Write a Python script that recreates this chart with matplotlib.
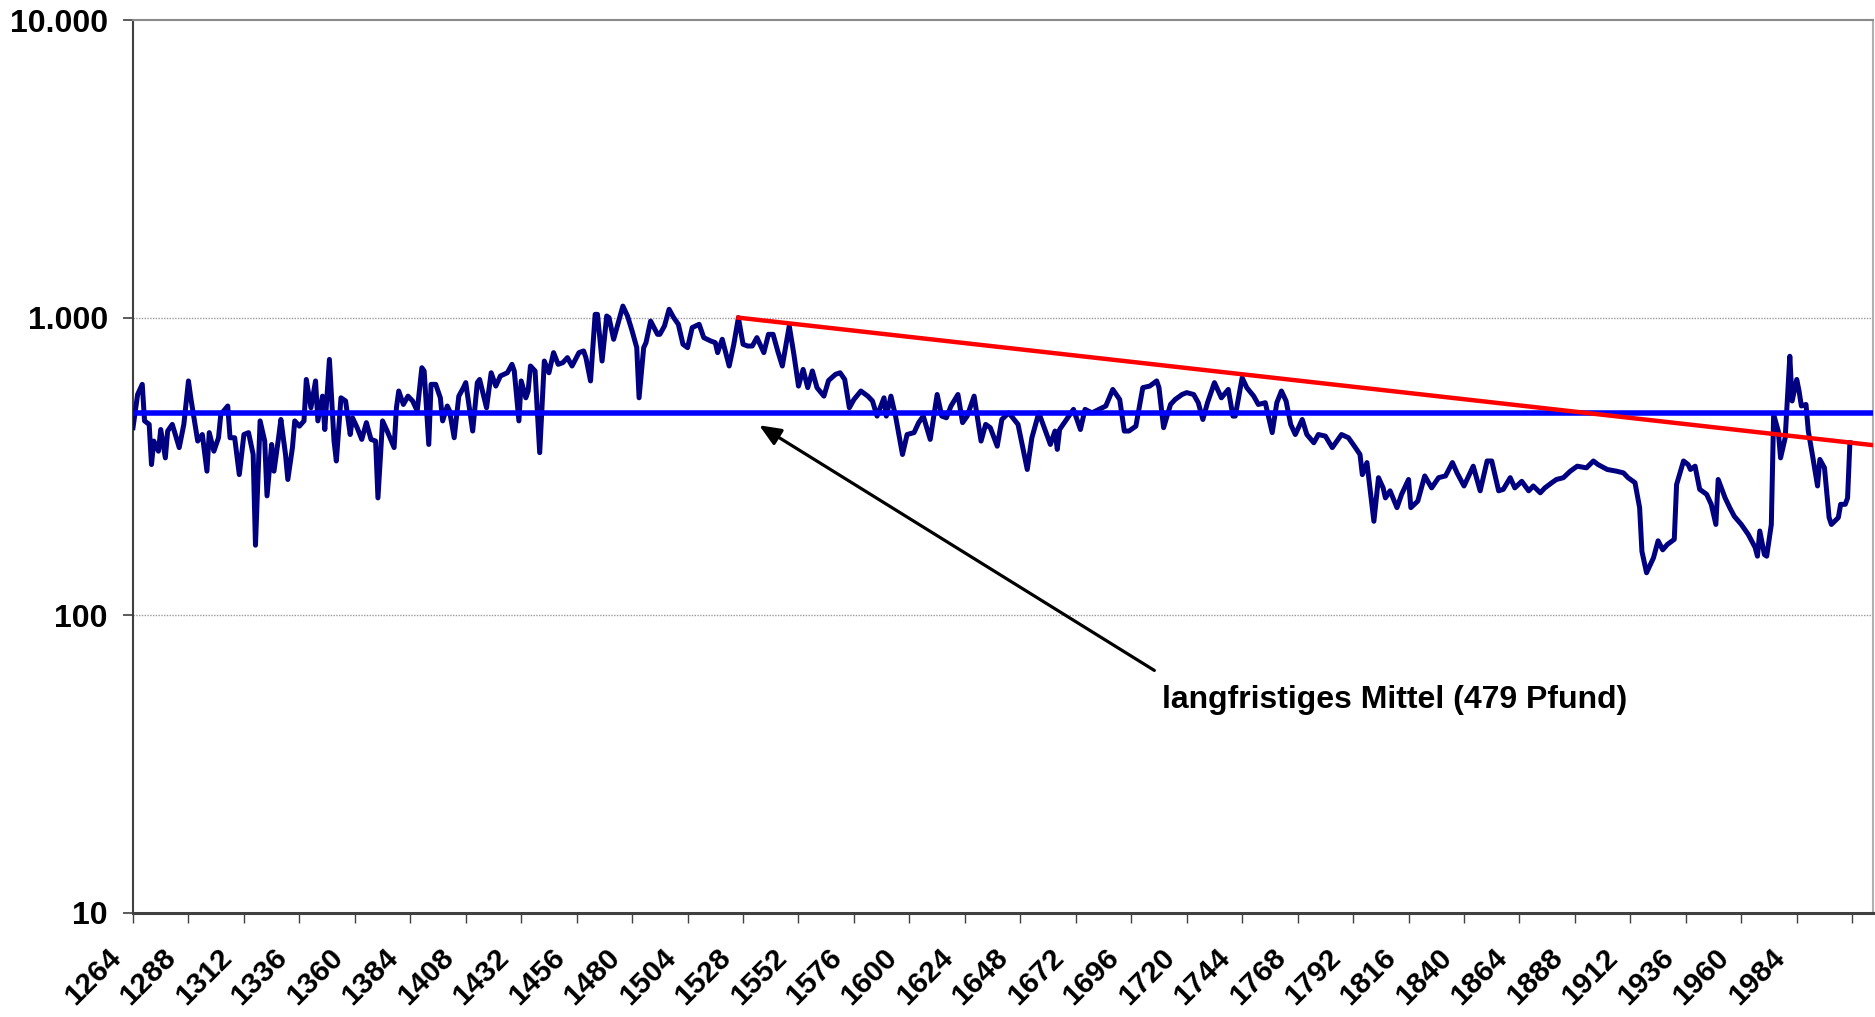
import matplotlib
matplotlib.use("Agg")
import matplotlib.pyplot as plt
import matplotlib.transforms as mtransforms
from matplotlib.ticker import FixedLocator, FixedFormatter, NullLocator

plt.rcParams['font.family'] = ['Liberation Sans', 'DejaVu Sans']

years = [
    1264, 1266, 1268, 1269, 1271, 1272, 1273, 1275, 1276, 1278, 1279, 1281, 1284, 1286, 1288, 1289,
    1292, 1294, 1296, 1297, 1299, 1301, 1302, 1305, 1306, 1308, 1310, 1312, 1314, 1316, 1317, 1319,
    1321, 1322, 1324, 1325, 1327, 1328, 1330, 1331, 1333, 1334, 1336, 1338, 1339, 1341, 1343, 1344,
    1346, 1347, 1349, 1351, 1352, 1354, 1356, 1358, 1359, 1361, 1363, 1365, 1367, 1369, 1370, 1372,
    1374, 1377, 1378, 1379, 1381, 1383, 1385, 1387, 1389, 1390, 1392, 1393, 1395, 1397, 1398, 1400,
    1401, 1403, 1405, 1407, 1408, 1411, 1413, 1414, 1417, 1419, 1421, 1423, 1426, 1428, 1429, 1431,
    1432, 1434, 1435, 1436, 1438, 1440, 1442, 1444, 1446, 1448, 1450, 1452, 1454, 1457, 1459, 1460,
    1462, 1464, 1465, 1467, 1469, 1470, 1472, 1475, 1476, 1478, 1480, 1482, 1483, 1485, 1486, 1488,
    1491, 1492, 1494, 1496, 1498, 1500, 1502, 1504, 1506, 1509, 1511, 1514, 1516, 1517, 1519, 1522,
    1524, 1526, 1528, 1530, 1532, 1534, 1537, 1539, 1541, 1543, 1545, 1546, 1548, 1550, 1552, 1554,
    1556, 1558, 1560, 1563, 1565, 1568, 1570, 1572, 1574, 1576, 1579, 1582, 1584, 1586, 1589, 1590,
    1592, 1594, 1597, 1599, 1602, 1604, 1606, 1609, 1612, 1614, 1616, 1618, 1621, 1623, 1625, 1628,
    1631, 1633, 1635, 1638, 1640, 1643, 1647, 1651, 1653, 1656, 1661, 1663, 1664, 1665, 1668, 1671,
    1674, 1676, 1679, 1682, 1685, 1688, 1691, 1693, 1695, 1698, 1701, 1704, 1707, 1708, 1710, 1713,
    1715, 1718, 1720, 1723, 1725, 1727, 1729, 1732, 1735, 1738, 1740, 1741, 1744, 1746, 1749, 1751,
    1754, 1757, 1759, 1761, 1763, 1765, 1767, 1770, 1772, 1775, 1777, 1780, 1783, 1787, 1790, 1793,
    1795, 1796, 1798, 1801, 1803, 1805, 1806, 1808, 1811, 1813, 1816, 1817, 1820, 1823, 1826, 1829,
    1832, 1835, 1837, 1840, 1844, 1847, 1850, 1852, 1855, 1857, 1860, 1862, 1865, 1868, 1870, 1873,
    1875, 1878, 1880, 1883, 1886, 1889, 1893, 1896, 1898, 1902, 1906, 1909, 1911, 1914, 1916, 1917,
    1919, 1922, 1924, 1926, 1928, 1931, 1932, 1935, 1937, 1938, 1940, 1942, 1945, 1947, 1949, 1950,
    1953, 1955, 1957, 1960, 1963, 1966, 1967, 1968, 1970, 1971, 1973, 1974, 1976, 1977, 1979, 1981,
    1982, 1984, 1985, 1986, 1988, 1989, 1991, 1993, 1994, 1996, 1998, 1999, 2002, 2003, 2005, 2006,
    2007,
]

pfund = [
    427, 552, 597, 450, 438, 321, 385, 356, 421, 338, 416, 438, 366, 438, 613, 538,
    385, 405, 305, 411, 356, 395, 473, 505, 395, 395, 297, 405, 411, 347, 172, 450,
    385, 252, 375, 305, 395, 455, 347, 286, 366, 450, 432, 450, 620, 498, 613, 450,
    545, 421, 724, 385, 330, 538, 525, 405, 461, 427, 390, 444, 390, 385, 248, 450,
    416, 366, 498, 567, 511, 545, 525, 486, 679, 662, 375, 597, 597, 538, 450, 505,
    486, 395, 545, 582, 605, 416, 605, 620, 498, 653, 589, 637, 653, 697, 662, 450,
    613, 538, 567, 688, 662, 352, 715, 653, 763, 697, 706, 734, 688, 763, 773, 734,
    613, 1026, 1026, 715, 1013, 1000, 846, 1026, 1094, 1013, 902, 793, 538, 793, 824, 974,
    879, 879, 938, 1067, 1000, 950, 814, 793, 926, 950, 857, 835, 824, 763, 846, 688,
    814, 1000, 814, 803, 803, 857, 763, 879, 879, 773, 688, 763, 938, 753, 589, 670,
    582, 662, 582, 545, 615, 645, 653, 620, 498, 531, 567, 545, 525, 467, 538, 467,
    545, 467, 347, 405, 411, 444, 467, 390, 552, 467, 461, 505, 552, 444, 467, 545,
    385, 438, 427, 370, 455, 479, 438, 309, 395, 479, 375, 416, 361, 421, 455, 492,
    421, 492, 479, 492, 505, 574, 531, 416, 416, 432, 582, 589, 613, 582, 427, 511,
    531, 552, 560, 552, 518, 455, 518, 605, 538, 574, 467, 467, 628, 582, 545, 511,
    518, 411, 518, 567, 525, 438, 405, 455, 405, 380, 405, 400, 366, 405, 395, 366,
    347, 297, 326, 207, 290, 268, 248, 262, 230, 255, 286, 230, 242, 294, 268, 290,
    294, 326, 301, 272, 317, 262, 330, 330, 262, 265, 290, 268, 282, 262, 272, 258,
    268, 279, 286, 290, 305, 317, 313, 330, 321, 309, 305, 301, 290, 279, 230, 164,
    139, 156, 178, 166, 173, 180, 275, 330, 321, 309, 317, 265, 255, 236, 202, 286,
    248, 230, 215, 202, 187, 169, 158, 192, 160, 158, 202, 473, 416, 338, 395, 742,
    525, 620, 567, 505, 511, 416, 338, 272, 334, 313, 213, 202, 213, 236, 236, 248,
    380,
]

mittel = 479
trend_years = [1526, 2017]
trend_values = [1000, 373]

xtick_years = list(range(1264, 2009, 24))
xtick_labels = [str(y) for y in range(1264, 1985, 24)] + [""]
ytick_values = [10, 100, 1000, 10000]
ytick_labels = ["10", "100", "1.000", "10.000"]

annotation_text = "langfristiges Mittel (479 Pfund)"
arrow_tip = (1535, 435)
arrow_tail = (1706, 65.3)
text_pos = (1709.5, 52.0)

fig = plt.figure(figsize=(18.75, 10.17), dpi=100)
ax = fig.add_axes([133 / 1875, 1 - 913 / 1017, (1873 - 133) / 1875, (913 - 20) / 1017])

ax.set_yscale('log')
ax.set_ylim(10, 10000)
ax.set_xlim(1264, 2017)

for yv in [100, 1000]:
    ax.axhline(yv, color='#9a9a9a', lw=1.0, ls=(0, (1, 1)), zorder=1)

ax.plot(years, pfund, color='#000080', lw=3.6, zorder=3, solid_joinstyle='round')
ax.axhline(mittel, color='#0000FF', lw=4.0, zorder=4)
ax.plot(trend_years, trend_values, color='#FF0000', lw=3.2, zorder=5, clip_on=True)

ax.annotate('', xy=arrow_tip, xytext=arrow_tail,
            arrowprops=dict(arrowstyle='-|>,head_length=1.3,head_width=0.55', color='black', lw=2.3,
                            shrinkA=0, shrinkB=0), zorder=6)
ax.text(text_pos[0], text_pos[1], annotation_text, fontsize=23, fontweight='bold',
        ha='left', va='center', color='black')

ax.yaxis.set_major_locator(FixedLocator(ytick_values))
ax.yaxis.set_major_formatter(FixedFormatter(ytick_labels))
ax.yaxis.set_minor_locator(NullLocator())
ax.xaxis.set_major_locator(FixedLocator(xtick_years))
ax.xaxis.set_major_formatter(FixedFormatter(xtick_labels))
ax.xaxis.set_minor_locator(NullLocator())

ax.tick_params(axis='y', direction='out', length=7, width=1.2, pad=11, labelsize=23, colors='#404040',
               labelcolor='black')
ax.tick_params(axis='x', direction='out', length=7, width=1.0, pad=6, labelsize=21.5, colors='#404040',
               labelcolor='black')
for lab in ax.get_yticklabels():
    lab.set_fontweight('bold')
offset = mtransforms.ScaledTranslation(-19 / 72, -9 / 72, fig.dpi_scale_trans)
for lab in ax.get_xticklabels():
    lab.set_fontweight('bold')
    lab.set_rotation(45)
    lab.set_ha('right')
    lab.set_va('top')
    lab.set_rotation_mode('anchor')
    lab.set_transform(lab.get_transform() + offset)

ax.spines['left'].set_color('#404040')
ax.spines['left'].set_linewidth(1.5)
ax.spines['bottom'].set_color('#404040')
ax.spines['bottom'].set_linewidth(2.2)
ax.spines['top'].set_color('#8a8a8a')
ax.spines['top'].set_linewidth(1.5)
ax.spines['right'].set_color('#b0b0b0')
ax.spines['right'].set_linewidth(1.5)

fig.savefig('out.png', dpi=100)
